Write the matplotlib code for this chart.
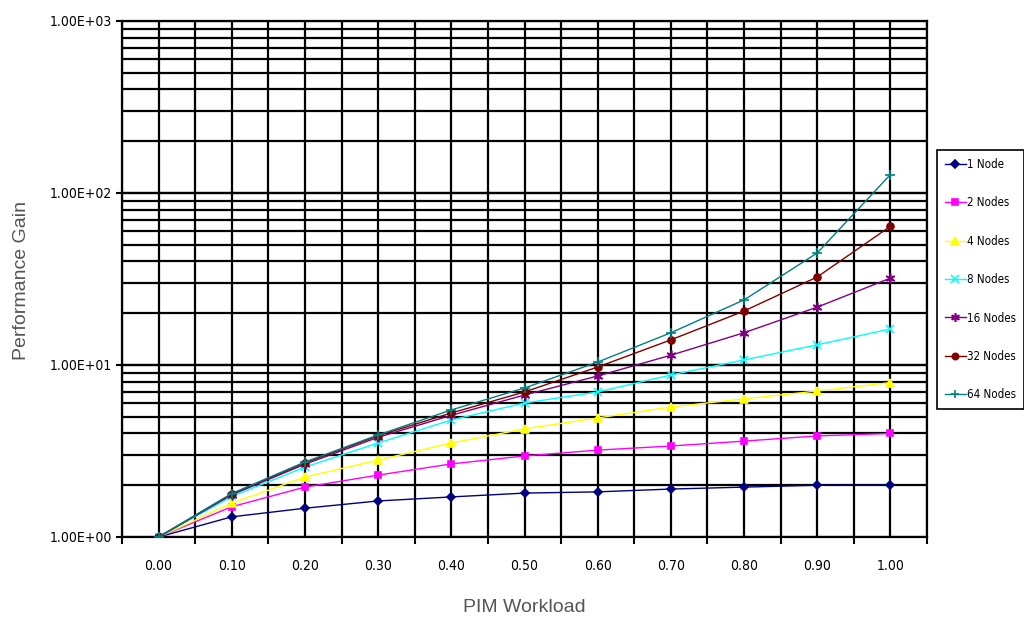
import numpy as np
import matplotlib.pyplot as plt
from matplotlib.font_manager import FontProperties
from matplotlib.ticker import FixedLocator, NullFormatter, FixedFormatter

# PIM workload fraction and performance gain for each node count
workload = [0.0, 0.1, 0.2, 0.3, 0.4, 0.5, 0.6, 0.7, 0.8, 0.9, 1.0]
tick_labels = ['0.00', '0.10', '0.20', '0.30', '0.40', '0.50',
               '0.60', '0.70', '0.80', '0.90', '1.00']
node_1 = [1.00, 1.31, 1.47, 1.62, 1.71, 1.80, 1.83, 1.90, 1.95, 2.00, 2.00]
node_2 = [1.00, 1.50, 1.95, 2.29, 2.66, 2.96, 3.20, 3.38, 3.61, 3.87, 4.00]
node_4 = [1.00, 1.57, 2.23, 2.80, 3.52, 4.25, 4.92, 5.70, 6.35, 7.06, 7.90]
node_8 = [1.00, 1.72, 2.55, 3.52, 4.79, 6.01, 6.97, 8.75, 10.7, 13.1, 16.2]
node_16 = [1.00, 1.76, 2.65, 3.80, 5.10, 6.69, 8.63, 11.4, 15.4, 21.7, 32.0]
node_32 = [1.00, 1.78, 2.70, 3.88, 5.26, 6.97, 9.73, 14.0, 20.6, 32.5, 64.0]
node_64 = [1.00, 1.79, 2.73, 3.92, 5.48, 7.35, 10.4, 15.4, 23.9, 44.8, 128.0]

series = [
    ('1 Node', node_1, '#000080', 'D', 4),
    ('2 Nodes', node_2, '#ff00ff', 's', 5),
    ('4 Nodes', node_4, '#ffff00', '^', 6),
    ('8 Nodes', node_8, '#00ffff', 'x', 6),
    ('16 Nodes', node_16, '#800080', (6, 2, 0), 7),
    ('32 Nodes', node_32, '#800000', 'o', 5),
    ('64 Nodes', node_64, '#008080', '+', 7),
]

# condensed face for tick labels and legend
tick_font = FontProperties(family='DejaVu Sans', stretch='condensed', size=10)
leg_font = FontProperties(family='DejaVu Sans', stretch='condensed', size=8.3)

fig = plt.figure(figsize=(10.24, 6.26), dpi=100)
ax = fig.add_axes([122 / 1024, 89 / 626, 805 / 1024, 516 / 626])

for name, vals, col, mk, ms in series:
    ax.plot(workload, vals, color=col, lw=1.0, marker=mk, ms=ms,
            mec=col, mfc=col, mew=1.2, label=name, zorder=3)

ax.set_yscale('log')
ax.set_ylim(1, 1000)
ax.set_xlim(-0.05, 1.05)

# grid: every category centre and boundary, plus log minor lines
bounds = np.arange(-0.05, 1.06, 0.1)
for xv in list(bounds) + workload:
    ax.axvline(xv, color='black', lw=1.6, zorder=1)
for dec in [1, 10, 100]:
    for m in range(1, 11):
        ax.axhline(dec * m, color='black', lw=1.6, zorder=1)

ax.xaxis.set_major_locator(FixedLocator(bounds))
ax.xaxis.set_major_formatter(NullFormatter())
ax.xaxis.set_minor_locator(FixedLocator(workload))
ax.xaxis.set_minor_formatter(FixedFormatter(tick_labels))
ax.tick_params(axis='x', which='major', length=5, width=1.5, direction='out')
ax.tick_params(axis='x', which='minor', length=0, pad=16)
ax.yaxis.set_major_locator(FixedLocator([1, 10, 100, 1000]))
ax.yaxis.set_major_formatter(FixedFormatter(['1.00E+00', '1.00E+01', '1.00E+02', '1.00E+03']))
ax.yaxis.set_minor_locator(FixedLocator([]))
ax.tick_params(axis='y', which='major', length=4, width=1.5, direction='out', pad=3)

for lab in ax.get_xticklabels(minor=True) + ax.get_yticklabels():
    lab.set_fontproperties(tick_font)

for s in ax.spines.values():
    s.set_linewidth(1.6)
    s.set_color('black')

fig.text(524 / 1024, 1 - 608 / 626, 'PIM Workload', ha='center', va='center',
         fontsize=14, color='#555555', family=['Liberation Sans', 'DejaVu Sans'])
fig.text(22 / 1024, 1 - 280 / 626, 'Performance Gain', ha='center', va='center',
         rotation=90, fontsize=14, color='#555555', family=['Liberation Sans', 'DejaVu Sans'])

leg = fig.legend(loc='upper left', bbox_to_anchor=(937 / 1024, 1 - 150 / 626),
                 fancybox=False, edgecolor='black', framealpha=1,
                 prop=leg_font, labelspacing=2.2,
                 handlelength=1.8, handletextpad=0.1, borderpad=0.7,
                 borderaxespad=0, markerscale=0.9)
leg.get_frame().set_linewidth(1.2)

fig.savefig('out.png', dpi=100)
